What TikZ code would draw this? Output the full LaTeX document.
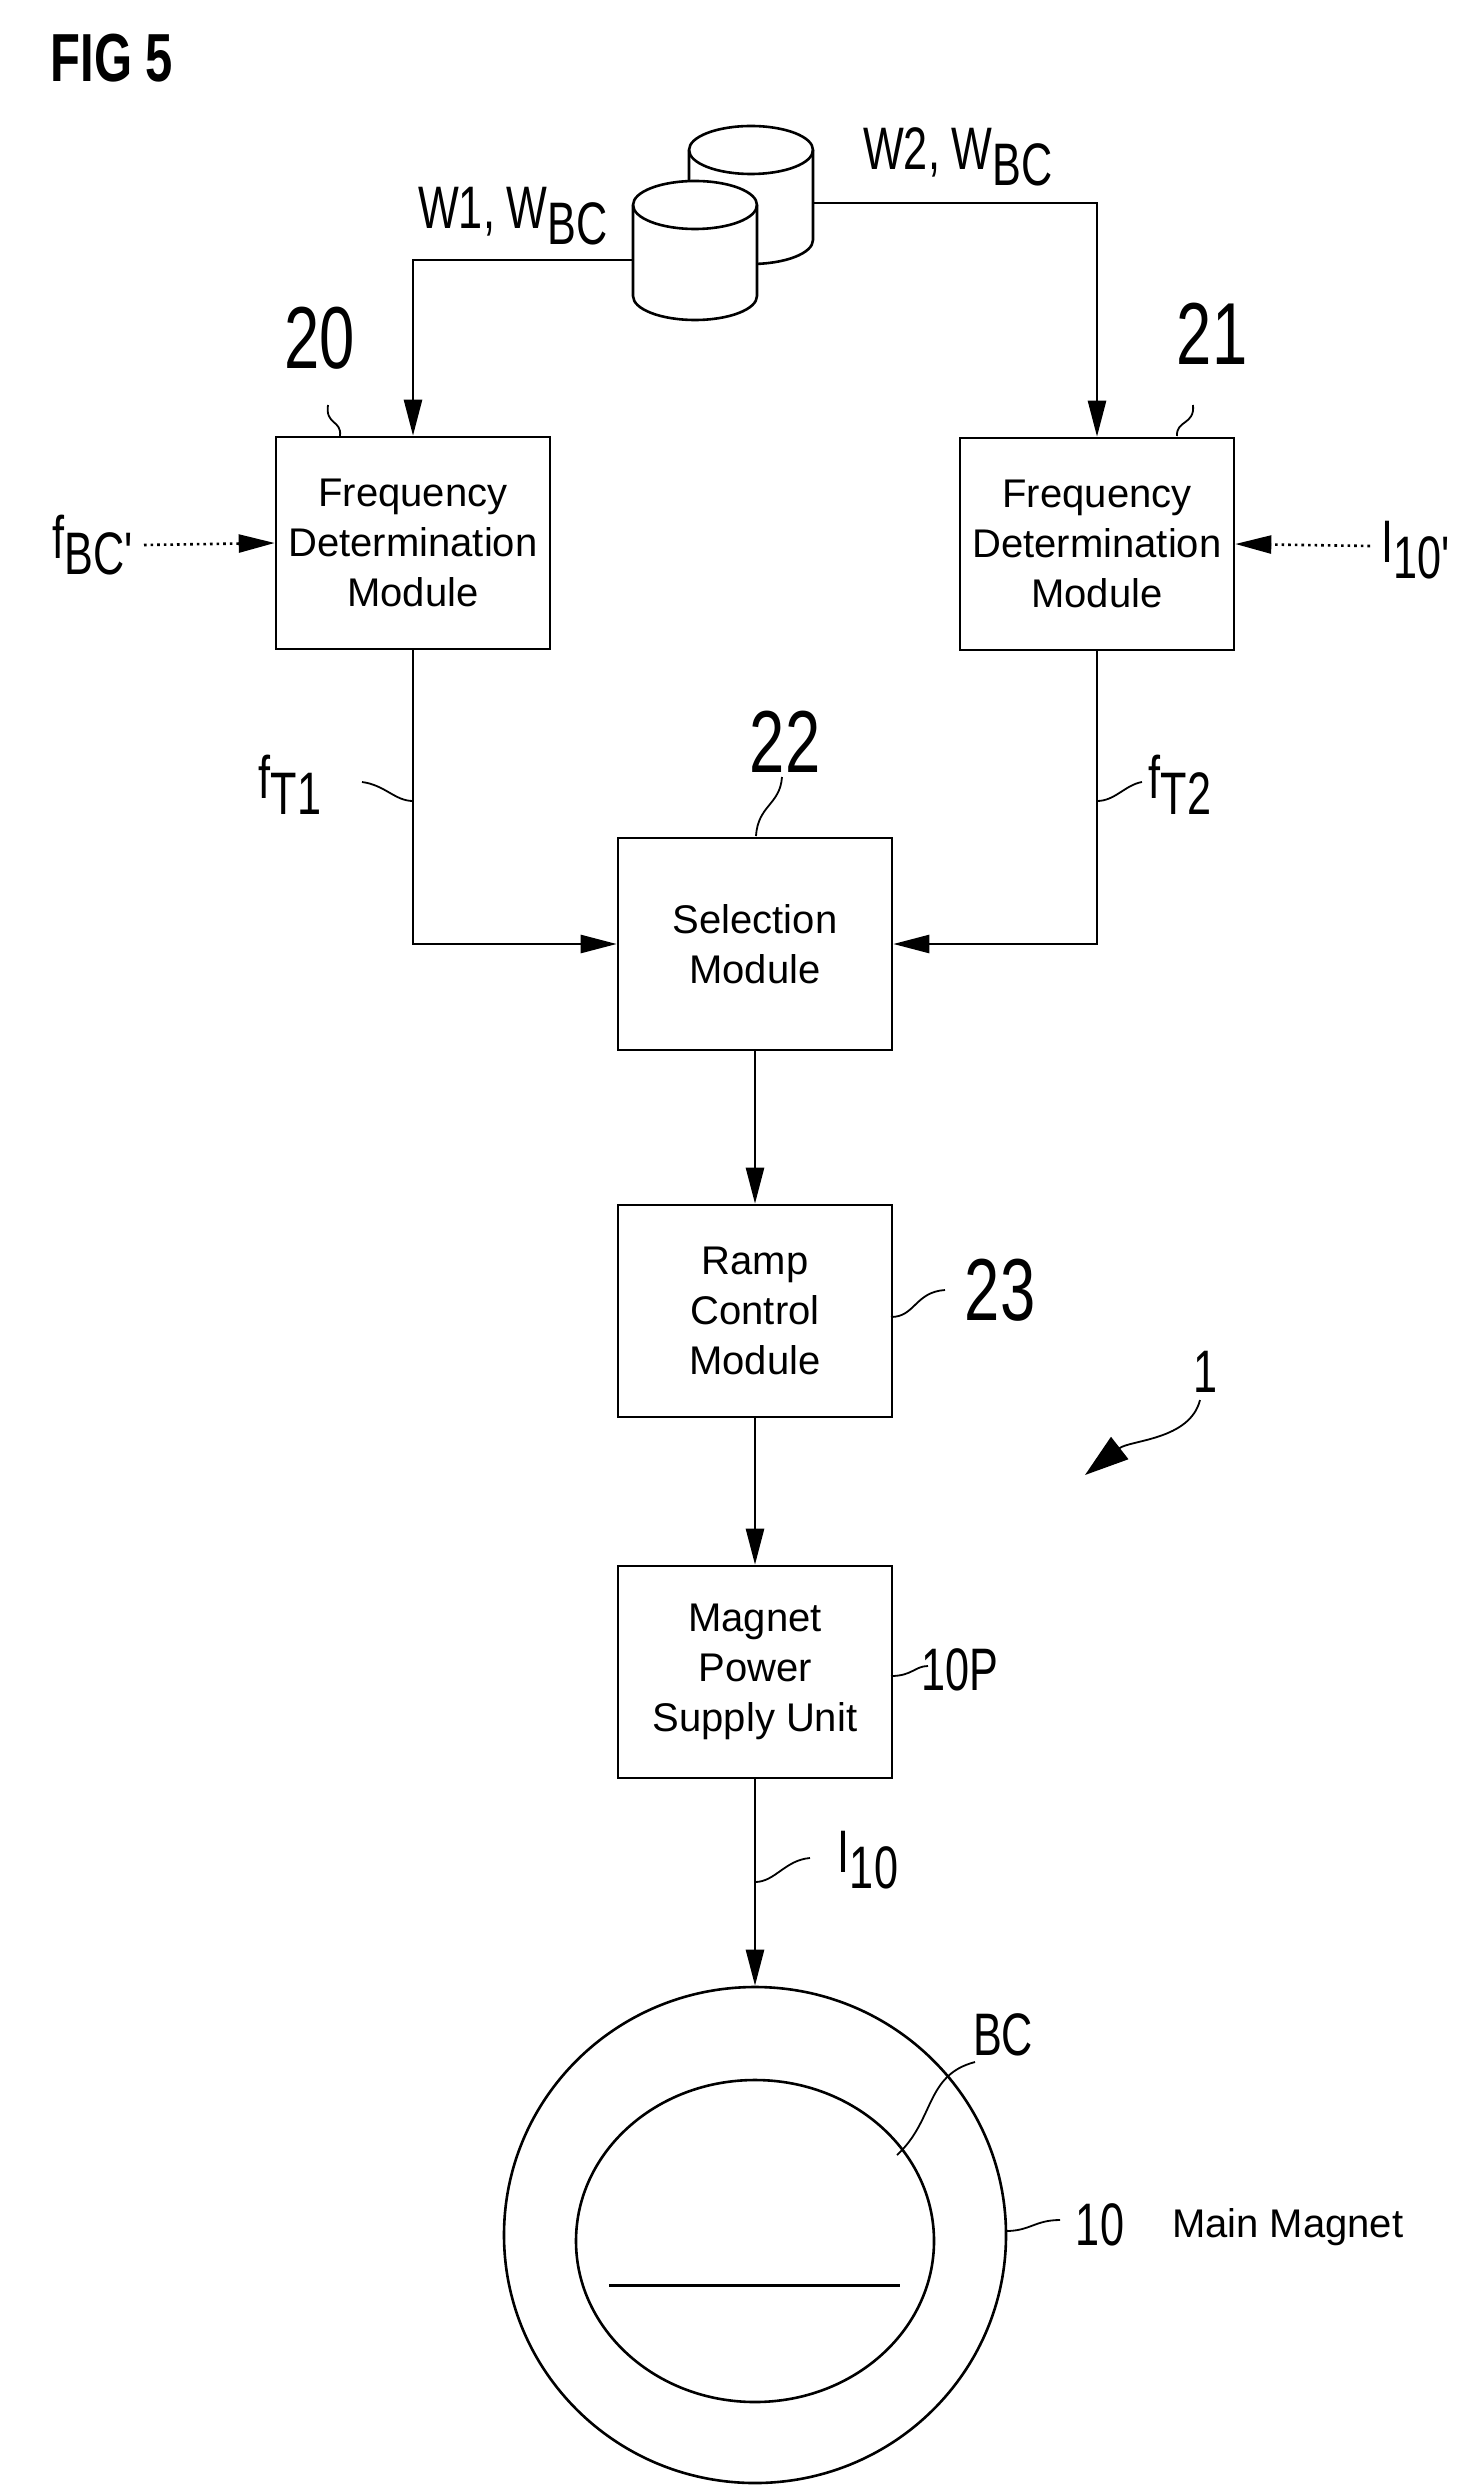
\documentclass[tikz,border=0pt]{standalone}
\usepackage{fontspec}
\setmainfont{Liberation Sans}
\newfontfamily\narrowfont{Liberation Sans}[FakeStretch=0.72]
\usetikzlibrary{arrows.meta,positioning,shapes.geometric}
\tikzset{
  module/.style={draw, line width=1.3pt, minimum width=137pt, minimum height=106pt, align=center, font=\fontsize{20}{25}\selectfont, inner sep=0pt},
  flow/.style={line width=1.3pt, -{Triangle[length=18pt,width=9pt]}},
  leader/.style={line width=0.9pt},
  refnum/.style={font=\narrowfont\fontsize{44}{44}\selectfont},
  sig/.style={font=\narrowfont\fontsize{30}{30}\selectfont},
}
\begin{document}
\begin{tikzpicture}[x=0.5pt,y=-0.5pt]
  \useasboundingbox (0,0) rectangle (1469,2492);

  \node[font=\narrowfont\bfseries\fontsize{34}{34}\selectfont] (fig) at (112,58) {FIG 5};

  % modules
  \node[module] (fdm1) at (413,543) {Frequency\\Determination\\Module};
  \node[module] (fdm2) at (1097,544) {Frequency\\Determination\\Module};
  \node[module] (sel) at (755,944) {Selection\\Module};
  \node[module] (ramp) at (755,1311) {Ramp\\Control\\Module};
  \node[module] (psu) at (755,1672) {Magnet\\Power\\Supply Unit};

  % data stores
  \draw[line width=1.3pt, fill=white] (689,150) -- (689,240) arc (180:0:62 and 24) -- (813,150) arc (0:-180:62 and 24) -- cycle;
  \draw[line width=1.3pt] (689,150) arc (180:0:62 and 24);
  \draw[line width=1.3pt, fill=white] (633,205) -- (633,296) arc (180:0:62 and 24) -- (757,205) arc (0:-180:62 and 24) -- cycle;
  \draw[line width=1.3pt] (633,205) arc (180:0:62 and 24);
  \coordinate (db1) at (633,260);
  \coordinate (db2) at (813,203);

  % inputs
  \coordinate (fin) at (144,545);
  \coordinate (iin) at (1370,546);
  \node[sig, anchor=east] (fbc) at (140,545) {f\raisebox{-8pt}{BC'}};
  \node[sig, anchor=west] (i10p) at (1374,550) {I\raisebox{-8pt}{10'}};

  % connectors
  \draw[flow] (db1) -| (fdm1.north);
  \draw[flow] (db2) -| (fdm2.north);
  \draw[flow, dotted] (fin) -- (fdm1.west);
  \draw[flow, dotted] (iin) -- (fdm2.east);
  \draw[flow] (fdm1.south) |- (sel.west);
  \draw[flow] (fdm2.south) |- (sel.east);
  \draw[flow] (sel) -- (ramp);
  \draw[flow] (ramp) -- (psu);

  % magnet
  \node[draw, line width=1.3pt, ellipse, minimum width=251pt, minimum height=248pt, inner sep=0pt] (magnet) at (755,2235) {};
  \node[draw, line width=1.3pt, ellipse, minimum width=179pt, minimum height=161pt, inner sep=0pt] (bore) at (755,2241) {};
  \draw[line width=1.5pt] (609,2285) -- (900,2285);
  \draw[flow] (psu) -- (magnet.north);

  % signal labels
  \node[sig] (w1) at (513,216) {W1, W\raisebox{-8pt}{BC}};
  \node[sig] (w2) at (958,157) {W2, W\raisebox{-8pt}{BC}};
  \node[sig] (ft1) at (290,785) {f\raisebox{-8pt}{T1}};
  \node[sig] (ft2) at (1180,785) {f\raisebox{-8pt}{T2}};
  \node[sig] (i10) at (868,1860) {I\raisebox{-8pt}{10}};
  \node[sig] (bc) at (1003,2035) {BC};

  % reference numerals
  \node[refnum] (n20) at (320,338) {20};
  \node[refnum] (n21) at (1212,334) {21};
  \node[refnum] (n22) at (785,742) {22};
  \node[refnum] (n23) at (1000,1290) {23};
  \node[sig] (n10p) at (960,1670) {10P};
  \node[sig] (n1) at (1205,1372) {1};
  \node[sig] (n10) at (1100,2225) {10};
  \node[font=\fontsize{20}{20}\selectfont, anchor=west] (mm) at (1165,2227) {Main Magnet};

  % leaders
  \draw[leader] (328,405) .. controls (325,425) and (342,420) .. (340,436);
  \draw[leader] (1193,405) .. controls (1195,425) and (1176,420) .. (1177,436);
  \draw[leader] (782,777) .. controls (780,805) and (758,805) .. (756,836);
  \draw[leader] (891,1317) .. controls (915,1317) and (915,1292) .. (945,1290);
  \draw[leader] (891,1676) .. controls (912,1676) and (915,1666) .. (928,1666);
  \draw[leader] (413,801) .. controls (395,801) and (385,785) .. (362,782);
  \draw[leader] (1097,801) .. controls (1115,801) and (1125,785) .. (1142,782);
  \draw[leader] (755,1882) .. controls (775,1882) and (785,1860) .. (810,1858);
  \draw[leader] (897,2155) .. controls (935,2120) and (925,2075) .. (975,2062);
  \draw[leader] (1006,2231) .. controls (1030,2231) and (1035,2220) .. (1060,2220);
  \draw[leader, -{Triangle[length=22pt,width=14pt]}] (1200,1400) .. controls (1190,1440) and (1130,1440) .. (1085,1475);
\end{tikzpicture}
\end{document}
